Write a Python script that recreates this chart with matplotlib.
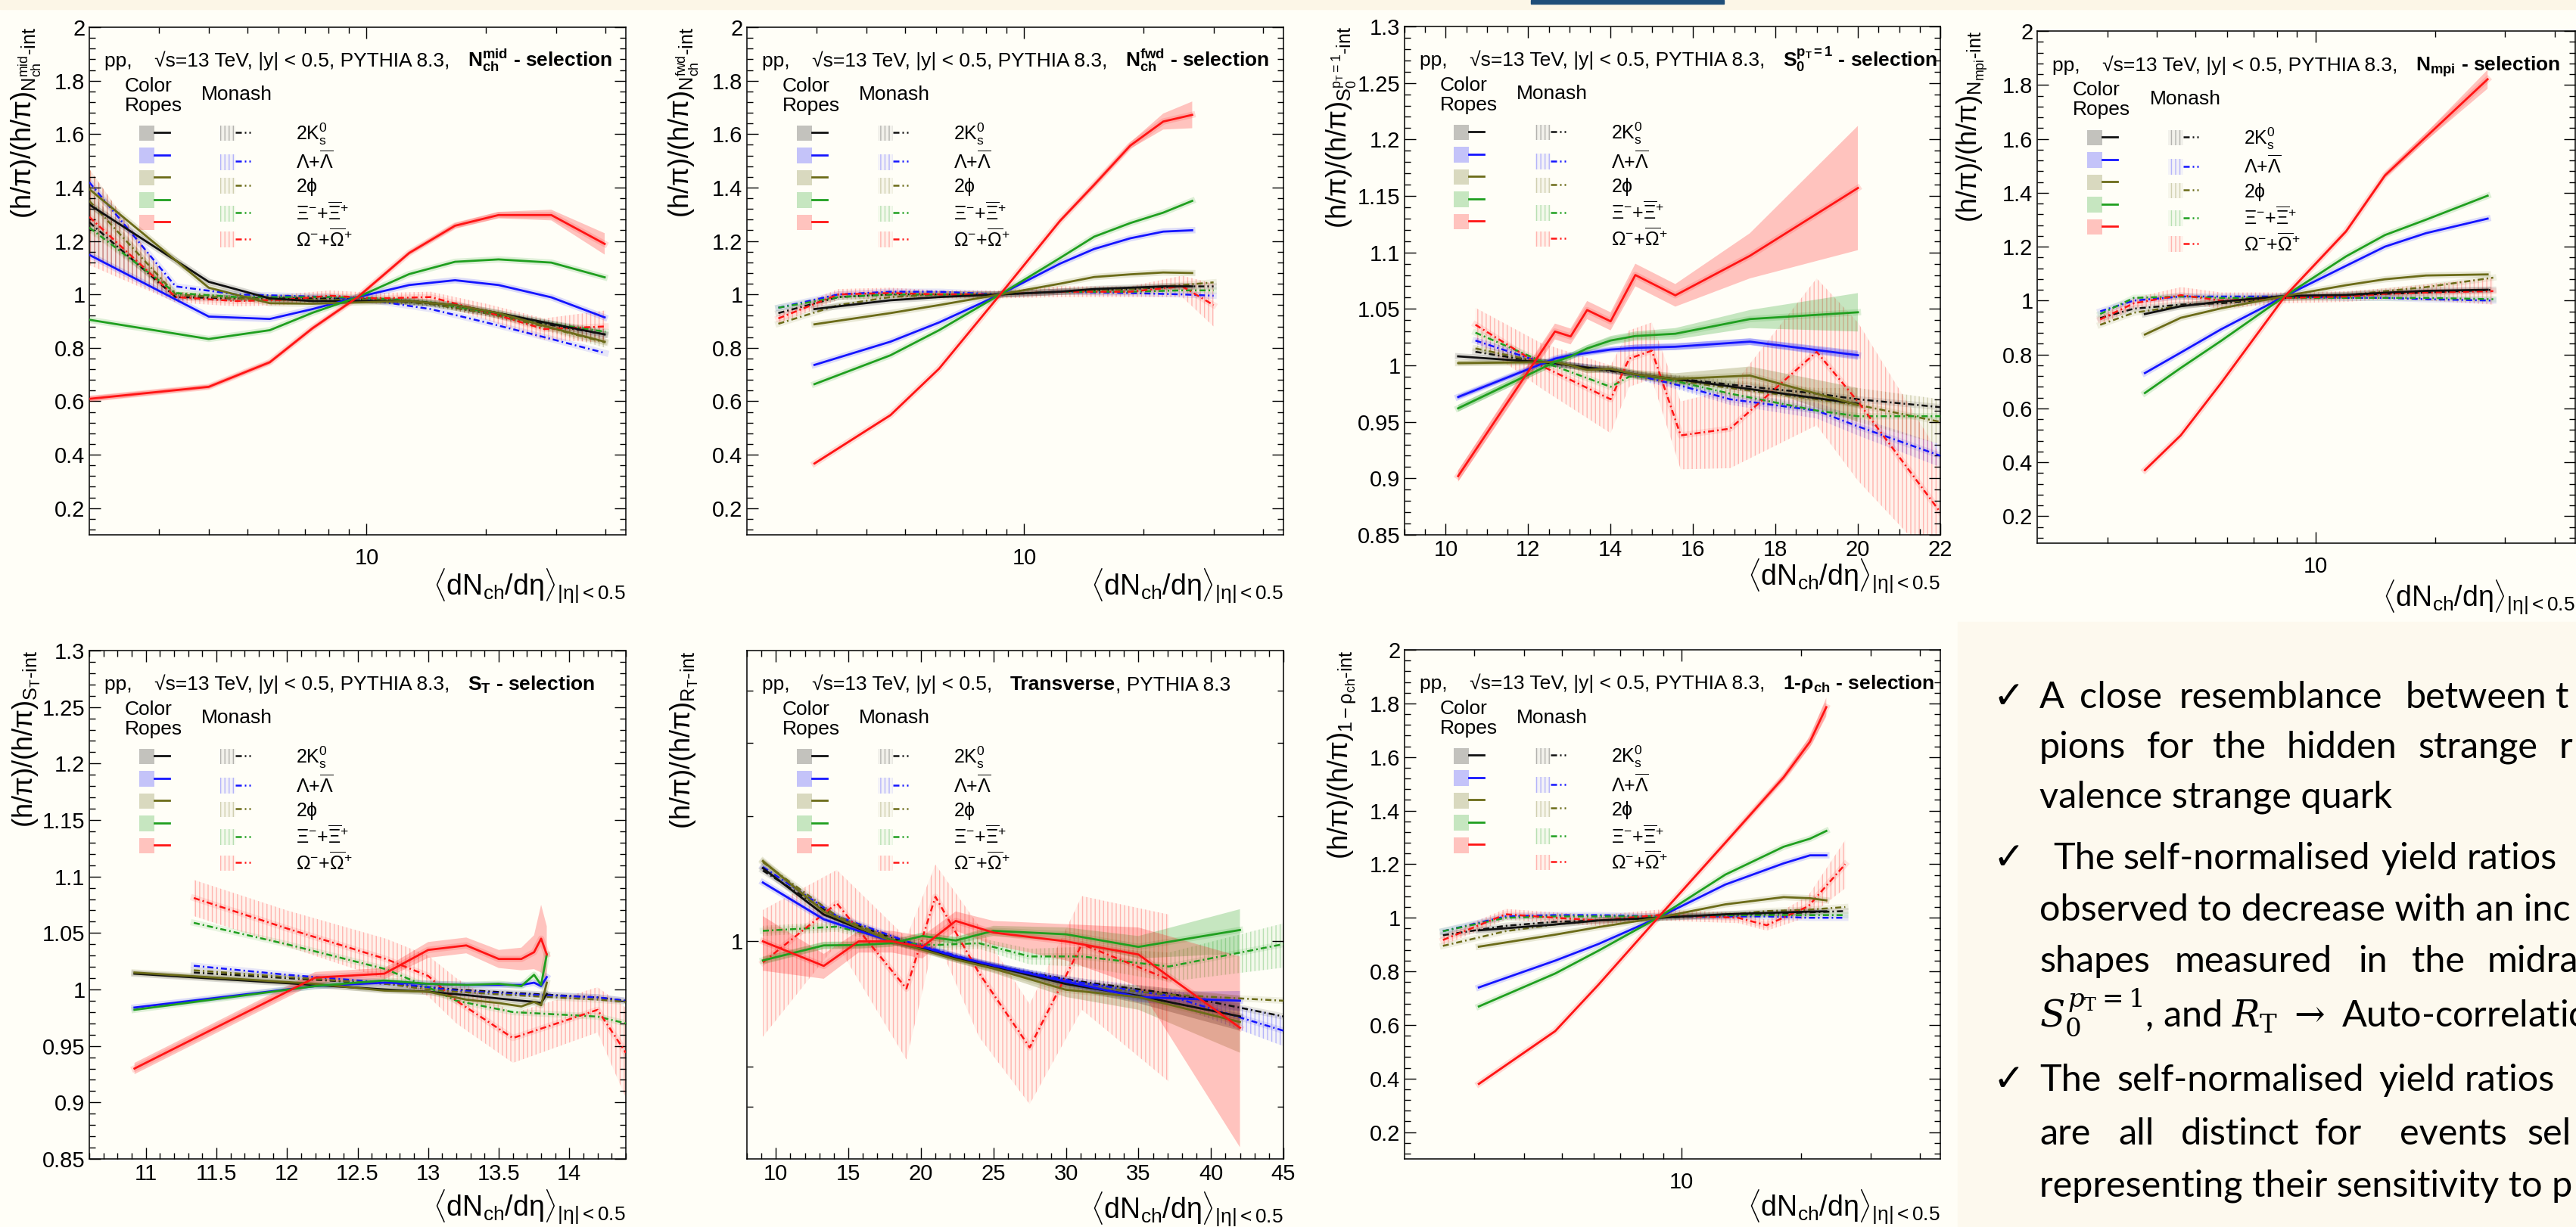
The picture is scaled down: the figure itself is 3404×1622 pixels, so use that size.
import numpy as np
import matplotlib
matplotlib.use('Agg')
import matplotlib.pyplot as plt
from matplotlib.colors import to_rgba
from matplotlib.lines import Line2D
from matplotlib.patches import Patch, Rectangle
from matplotlib.legend_handler import HandlerTuple
from matplotlib.ticker import FixedLocator, MultipleLocator, NullFormatter, FuncFormatter

nan = np.nan

# ---------------- data ----------------
SPECIES = ['k0s', 'lam', 'phi', 'xi', 'omega']
LABELS = [r'2K$^{0}_{\mathrm{s}}$', r'$\Lambda$+$\overline{\Lambda}$', r'2$\mathrm{\phi}$',
          r'$\Xi^{-}$+$\overline{\Xi}^{+}$', r'$\Omega^{-}$+$\overline{\Omega}^{+}$']
COLORS = ['#111111', '#1414ff', '#6b6b18', '#1f9f1f', '#ff1414']

# N_ch^mid selection
MID_X_ROPES = [2.0, 4.0, 5.7, 7.3, 9.5, 12.8, 16.7, 21.5, 29.2, 39.8]
MID_ROPES_K0S = [1.336, 1.047, 0.985, 0.975, 0.975, 0.975, 0.96, 0.93, 0.89, 0.85]
MID_ROPES_LAM = [1.148, 0.917, 0.908, 0.945, 0.99, 1.035, 1.053, 1.035, 0.989, 0.914]
MID_ROPES_PHI = [1.394, 1.025, 0.967, 0.965, 0.97, 0.975, 0.96, 0.93, 0.875, 0.823]
MID_ROPES_XI = [0.905, 0.833, 0.866, 0.931, 0.99, 1.076, 1.122, 1.131, 1.119, 1.064]
MID_ROPES_OMEGA = [0.609, 0.654, 0.746, 0.873, 0.99, 1.155, 1.257, 1.297, 1.297, 1.189]
MID_ROPES_OMEGA_ERR = [0.01, 0.008, 0.008, 0.008, 0.008, 0.008, 0.01, 0.012, 0.02, 0.04]
MID_X_MONASH = [2.0, 3.3, 4.7, 6.2, 8.1, 10.6, 14.5, 20.0, 28.0, 40.0]
MID_MONASH_K0S = [1.27, 0.99, 0.985, 0.985, 0.985, 0.98, 0.965, 0.93, 0.89, 0.85]
MID_MONASH_LAM = [1.42, 1.03, 1.0, 0.995, 0.99, 0.975, 0.945, 0.895, 0.84, 0.78]
MID_MONASH_PHI = [1.35, 1.0, 0.985, 0.98, 0.98, 0.98, 0.965, 0.93, 0.88, 0.82]
MID_MONASH_XI = [1.25, 1.005, 0.99, 0.99, 0.99, 0.985, 0.97, 0.935, 0.895, 0.86]
MID_MONASH_OMEGA = [1.29, 0.99, 0.975, 0.98, 0.995, 0.985, 0.99, 0.935, 0.87, 0.88]
MID_MONASH_OMEGA_ERR = [0.18, 0.02, 0.02, 0.02, 0.02, 0.02, 0.02, 0.03, 0.04, 0.06]
MID_MONASH_K0S_ERR = [0.12, 0.01, 0.01, 0.01, 0.01, 0.01, 0.01, 0.01, 0.015, 0.02]
MID_MONASH_PHI_ERR = [0.12, 0.01, 0.01, 0.01, 0.01, 0.01, 0.01, 0.01, 0.015, 0.02]

# N_ch^fwd selection
FWD_X_ROPES = [2.96, 4.6, 6.1, 8.7, 12.3, 15.0, 18.5, 22.4, 26.5]
FWD_ROPES_K0S = [0.945, 0.978, 0.99, 1.0, 1.01, 1.02, 1.025, 1.03, 1.03]
FWD_ROPES_LAM = [0.736, 0.823, 0.895, 1.0, 1.115, 1.17, 1.21, 1.235, 1.24]
FWD_ROPES_PHI = [0.888, 0.93, 0.96, 1.0, 1.04, 1.065, 1.075, 1.082, 1.08]
FWD_ROPES_XI = [0.664, 0.772, 0.866, 1.0, 1.136, 1.216, 1.267, 1.306, 1.35]
FWD_ROPES_OMEGA = [0.367, 0.548, 0.722, 1.0, 1.275, 1.41, 1.557, 1.647, 1.672]
FWD_ROPES_OMEGA_ERR = [0.005, 0.005, 0.005, 0.005, 0.008, 0.01, 0.012, 0.03, 0.05]
FWD_X_MONASH = [2.4, 3.4, 4.6, 6.1, 8.7, 12.3, 18.5, 25.0, 30.0]
FWD_MONASH_K0S = [0.93, 0.99, 1.0, 1.0, 1.0, 1.01, 1.02, 1.03, 1.03]
FWD_MONASH_LAM = [0.95, 1.0, 1.01, 1.01, 1.0, 1.01, 1.005, 1.0, 0.995]
FWD_MONASH_PHI = [0.89, 0.96, 0.99, 1.0, 1.0, 1.01, 1.02, 1.035, 1.045]
FWD_MONASH_XI = [0.95, 0.99, 1.0, 1.0, 1.0, 1.01, 1.01, 1.015, 1.015]
FWD_MONASH_OMEGA = [0.91, 1.0, 1.005, 1.0, 1.0, 1.01, 1.01, 1.03, 0.96]
FWD_MONASH_OMEGA_ERR = [0.02, 0.02, 0.02, 0.015, 0.015, 0.02, 0.02, 0.04, 0.08]

# S0^{pT=1} selection
S0_X_ROPES = [10.3, 12.65, 13.03, 13.43, 14.0, 14.6, 15.57, 17.38, 20.0]
S0_ROPES_K0S = [1.008, 1.002, 1.0, 0.998, 0.996, 0.992, 0.988, 0.979, 0.966]
S0_ROPES_LAM = [0.972, 1.006, 1.009, 1.011, 1.014, 1.0155, 1.0165, 1.021, 1.009]
S0_ROPES_PHI = [1.002, 1.003, 1.0, 0.996, 0.997, 0.992, 0.988, 0.991, 0.965]
S0_ROPES_XI = [0.962, 1.003, 1.008, 1.015, 1.022, 1.026, 1.028, 1.041, 1.047]
S0_ROPES_OMEGA = [0.902, 1.03, 1.0256, 1.049, 1.039, 1.08, 1.062, 1.097, 1.157]
S0_ROPES_OMEGA_ERR = [0.005, 0.007, 0.007, 0.008, 0.008, 0.01, 0.01, 0.02, 0.055]
S0_ROPES_XI_ERR = [0.003, 0.003, 0.003, 0.003, 0.004, 0.004, 0.005, 0.008, 0.017]
S0_ROPES_PHI_ERR = [0.002, 0.002, 0.002, 0.003, 0.003, 0.004, 0.005, 0.008, 0.015]
S0_ROPES_LAM_ERR = [0.002, 0.002, 0.002, 0.002, 0.002, 0.003, 0.003, 0.003, 0.004]
S0_X_MONASH = [10.72, 12.3, 14.0, 14.45, 15.0, 15.7, 16.9, 19.0, 20.0, 22.0]
S0_MONASH_K0S = [1.012, 1.003, 0.995, 0.993, 0.99, 0.988, 0.983, 0.975, 0.97, 0.963]
S0_MONASH_LAM = [1.022, 1.003, 0.996, 0.993, 0.988, 0.982, 0.97, 0.96, 0.946, 0.92]
S0_MONASH_PHI = [1.015, 1.003, 0.996, 0.993, 0.99, 0.986, 0.98, 0.97, 0.965, 0.95]
S0_MONASH_XI = [1.029, 1.004, 0.981, 0.99, 0.99, 0.985, 0.975, 0.96, 0.955, 0.955]
S0_MONASH_OMEGA = [1.036, 1.0, 0.97, 1.006, 1.013, 0.938, 0.944, 1.012, 0.968, 0.87]
S0_MONASH_OMEGA_ERR = [0.015, 0.02, 0.03, 0.025, 0.025, 0.03, 0.035, 0.065, 0.07, 0.05]
S0_MONASH_PHI_ERR = [0.003, 0.003, 0.003, 0.003, 0.004, 0.005, 0.007, 0.01, 0.015, 0.02]
S0_MONASH_LAM_ERR = [0.003, 0.003, 0.003, 0.003, 0.004, 0.004, 0.005, 0.007, 0.008, 0.01]

# N_mpi selection
MPI_X_ROPES = [3.73, 4.59, 5.79, 8.4, 11.95, 14.96, 18.97, 27.1]
MPI_ROPES_K0S = [0.95, 0.979, 0.996, 1.017, 1.021, 1.029, 1.036, 1.04]
MPI_ROPES_LAM = [0.731, 0.807, 0.893, 1.017, 1.129, 1.2, 1.25, 1.304]
MPI_ROPES_PHI = [0.874, 0.936, 0.971, 1.017, 1.057, 1.079, 1.093, 1.097]
MPI_ROPES_XI = [0.657, 0.75, 0.85, 1.017, 1.164, 1.243, 1.3, 1.389]
MPI_ROPES_OMEGA = [0.371, 0.5, 0.693, 1.017, 1.257, 1.464, 1.607, 1.821]
MPI_ROPES_OMEGA_ERR = [0.005, 0.005, 0.006, 0.006, 0.008, 0.01, 0.015, 0.035]
MPI_X_MONASH = [2.88, 3.5, 4.6, 5.8, 8.4, 12.0, 15.0, 19.0, 28.0]
MPI_MONASH_K0S = [0.935, 0.97, 0.985, 0.99, 1.01, 1.02, 1.025, 1.03, 1.04]
MPI_MONASH_LAM = [0.96, 1.0, 1.015, 1.015, 1.015, 1.01, 1.01, 1.005, 1.0]
MPI_MONASH_PHI = [0.91, 0.955, 0.98, 0.995, 1.01, 1.02, 1.035, 1.05, 1.085]
MPI_MONASH_XI = [0.95, 1.01, 1.015, 1.01, 1.01, 1.01, 1.01, 1.01, 1.005]
MPI_MONASH_OMEGA = [0.93, 0.99, 1.02, 1.0, 1.01, 1.015, 1.025, 1.03, 1.035]
MPI_MONASH_OMEGA_ERR = [0.02, 0.02, 0.03, 0.03, 0.02, 0.02, 0.02, 0.03, 0.05]

# S_T selection
ST_X_ROPES = [10.92, 12.2, 12.69, 13.0, 13.27, 13.5, 13.66, 13.75, 13.8, 13.84]
ST_ROPES_K0S = [1.014, 1.004, 1.0, 0.998, 0.995, 0.992, 0.99, 0.989, 0.988, 0.996]
ST_ROPES_LAM = [0.984, 1.003, 1.006, 1.005, 1.004, 1.004, 1.004, 1.006, 1.003, 1.011]
ST_ROPES_PHI = [1.015, 1.005, 0.999, 0.998, 0.991, 0.988, 0.985, 0.989, 0.986, 1.006]
ST_ROPES_XI = [0.982, 1.003, 1.008, 1.005, 1.004, 1.005, 1.003, 1.013, 1.004, 1.031]
ST_ROPES_OMEGA = [0.930, 1.0105, 1.014, 1.035, 1.039, 1.027, 1.027, 1.033, 1.045, 1.031]
ST_ROPES_OMEGA_ERR = [0.005, 0.005, 0.005, 0.007, 0.007, 0.008, 0.01, 0.015, 0.03, 0.025]
ST_X_MONASH = [11.34, 12.0, 12.7, 13.0, 13.2, 13.6, 14.2, 14.4]
ST_MONASH_K0S = [1.015, 1.01, 1.005, 1.002, 1.0, 0.997, 0.993, 0.99]
ST_MONASH_LAM = [1.021, 1.013, 1.006, 1.002, 0.999, 0.996, 0.993, 0.99]
ST_MONASH_PHI = [1.017, 1.011, 1.005, 1.0, 0.998, 0.995, 0.991, 0.989]
ST_MONASH_XI = [1.059, 1.04, 1.018, 1.002, 0.99, 0.98, 0.976, 0.97]
ST_MONASH_OMEGA = [1.081, 1.054, 1.027, 1.012, 0.99, 0.957, 0.982, 0.944]
ST_MONASH_OMEGA_ERR = [0.016, 0.016, 0.018, 0.018, 0.02, 0.022, 0.02, 0.04]

# R_T (transverse) selection
RT_X_ROPES = [9.1, 13.3, 15.7, 18.0, 20.1, 22.4, 25.0, 30.0, 35.0, 42.0]
RT_ROPES_K0S = [1.50, 1.16, 1.075, 1.0, 0.963, 0.911, 0.872, 0.79, 0.74, 0.66]
RT_ROPES_LAM = [1.385, 1.13, 1.06, 1.0, 0.97, 0.92, 0.875, 0.8, 0.735, 0.72]
RT_ROPES_PHI = [1.56, 1.18, 1.08, 1.0, 0.955, 0.905, 0.86, 0.765, 0.735, 0.64]
RT_ROPES_XI = [0.90, 0.978, 0.98, 0.99, 1.03, 1.005, 1.06, 1.04, 0.97, 1.065]
RT_ROPES_OMEGA = [1.0, 0.873, 1.0, 1.0, 0.97, 1.12, 1.05, 1.0, 0.93, 0.62]
RT_ROPES_OMEGA_ERR = [0.15, 0.06, 0.06, 0.06, 0.06, 0.06, 0.07, 0.1, 0.15, 0.3]
RT_ROPES_XI_ERR = [0.02, 0.02, 0.02, 0.02, 0.02, 0.02, 0.03, 0.04, 0.06, 0.13]
RT_ROPES_PHI_ERR = [0.02, 0.015, 0.015, 0.015, 0.015, 0.015, 0.02, 0.03, 0.05, 0.1]
RT_ROPES_LAM_ERR = [0.01, 0.01, 0.01, 0.01, 0.01, 0.01, 0.01, 0.015, 0.02, 0.04]
RT_ROPES_K0S_ERR = [0.01, 0.01, 0.01, 0.01, 0.01, 0.01, 0.01, 0.02, 0.03, 0.05]
RT_X_MONASH = [9.1, 14.2, 19.0, 21.0, 24.0, 27.5, 31.1, 37.1, 45.0]
RT_MONASH_K0S = [1.48, 1.14, 0.99, 0.95, 0.89, 0.84, 0.8, 0.75, 0.66]
RT_MONASH_LAM = [1.51, 1.15, 1.0, 0.955, 0.89, 0.84, 0.795, 0.74, 0.61]
RT_MONASH_PHI = [1.55, 1.15, 0.98, 0.94, 0.88, 0.83, 0.78, 0.745, 0.72]
RT_MONASH_XI = [1.06, 1.085, 0.99, 0.98, 0.99, 0.92, 0.92, 0.87, 0.985]
RT_MONASH_OMEGA = [0.89, 1.235, 0.77, 1.28, 0.84, 0.556, 0.985, 0.81, nan]
RT_MONASH_OMEGA_ERR = [0.3, 0.25, 0.25, 0.25, 0.25, 0.15, 0.3, 0.35, nan]
RT_MONASH_XI_ERR = [0.03, 0.03, 0.03, 0.03, 0.03, 0.04, 0.05, 0.07, 0.12]
RT_MONASH_LAM_ERR = [0.01, 0.01, 0.01, 0.01, 0.01, 0.015, 0.02, 0.03, 0.05]

# 1-rho_ch selection
RHO_X_ROPES = [3.08, 4.8, 6.17, 8.72, 12.9, 18.1, 21.1, 23.2]
RHO_ROPES_K0S = [0.953, 0.975, 0.99, 1.0, 1.013, 1.02, 1.023, 1.024]
RHO_ROPES_LAM = [0.74, 0.84, 0.902, 1.0, 1.124, 1.203, 1.233, 1.233]
RHO_ROPES_PHI = [0.892, 0.937, 0.965, 1.0, 1.05, 1.077, 1.073, 1.065]
RHO_ROPES_XI = [0.669, 0.792, 0.877, 1.0, 1.161, 1.265, 1.295, 1.324]
RHO_ROPES_OMEGA = [0.38, 0.577, 0.75, 1.0, 1.28, 1.524, 1.657, 1.786]
RHO_ROPES_OMEGA_ERR = [0.005, 0.005, 0.005, 0.005, 0.008, 0.012, 0.02, 0.035]
RHO_X_MONASH = [2.5, 3.6, 4.8, 6.17, 8.72, 13.9, 16.4, 20.9, 25.9]
RHO_MONASH_K0S = [0.935, 0.97, 0.985, 0.99, 1.0, 1.01, 1.015, 1.02, 1.025]
RHO_MONASH_LAM = [0.95, 1.005, 1.01, 1.01, 1.005, 1.005, 1.005, 1.0, 1.0]
RHO_MONASH_PHI = [0.895, 0.95, 0.975, 0.99, 1.0, 1.015, 1.025, 1.03, 1.04]
RHO_MONASH_XI = [0.95, 1.0, 1.005, 1.005, 1.005, 1.01, 1.01, 1.01, 1.01]
RHO_MONASH_OMEGA = [0.917, 1.013, 1.0, 0.99, 1.01, 1.0, 0.972, 1.043, 1.2]
RHO_MONASH_OMEGA_ERR = [0.02, 0.02, 0.02, 0.02, 0.02, 0.02, 0.02, 0.04, 0.09]

# ---------------- style ----------------
plt.rcParams.update({
    'font.family': ['Liberation Sans', 'DejaVu Sans'],
    'mathtext.fontset': 'custom',
    'mathtext.rm': 'Liberation Sans',
    'mathtext.it': 'Liberation Sans',
    'mathtext.bf': 'Liberation Sans:bold',
    'mathtext.sf': 'Liberation Sans',
    'mathtext.fallback': 'cm',
    'hatch.linewidth': 1.0,
    'axes.linewidth': 1.1,
})

W, H = 3405, 1622
BG = '#fffef7'
DASH = (3.2, 1.6, 0.8, 1.6)
fig = plt.figure(figsize=(W / 100, H / 100), dpi=100, facecolor=BG)
fig.add_artist(Rectangle((0, 1 - 12 / H), 1, 12 / H, transform=fig.transFigure, color='#fcf6e7', zorder=0))
fig.add_artist(Rectangle((2023 / W, 1 - 5 / H), 255 / W, 5 / H, transform=fig.transFigure, color='#1f4e79', zorder=1))
fig.add_artist(Rectangle((2587 / W, 0), (W - 2587) / W, 1 - 822 / H, transform=fig.transFigure,
                         color='#fdf9ee', zorder=0))
renderer = fig.canvas.get_renderer()

XLABEL = r'$\langle$dN$_{\mathrm{ch}}$/dη$\rangle_{\mathrm{|\eta| < 0.5}}$'


def sel(prefix, tune, suffix=''):
    g = globals()
    out = {}
    for k in SPECIES:
        name = f'{prefix}_{tune}_{k.upper()}{suffix}'
        if name in g:
            out[k] = g[name]
    return out


def header(ax, parts, y=0.922, x0=0.028):
    prev = None
    for s, bold, gap in parts:
        x = x0
        if prev is not None:
            bb = prev.get_window_extent(renderer)
            x = ax.transAxes.inverted().transform((bb.x1 + gap * 100 / 72, 0))[0]
        prev = ax.text(x, y, s, transform=ax.transAxes, fontsize=19, va='baseline', ha='left',
                       fontweight='bold' if bold else 'normal', zorder=6)


def draw_panel(cfg):
    l, t, r, b = cfg['rect']
    ax = fig.add_axes([l / W, 1 - b / H, (r - l) / W, (b - t) / H])
    ax.set_facecolor(BG)
    p = cfg['prefix']
    xr, xm = globals()[p + '_X_ROPES'], globals()[p + '_X_MONASH']
    ropes, ropes_err = sel(p, 'ROPES'), sel(p, 'ROPES', '_ERR')
    mon, mon_err = sel(p, 'MONASH'), sel(p, 'MONASH', '_ERR')
    for k, c in zip(SPECIES, COLORS):
        ym = np.array(mon[k], float)
        if k in mon_err:
            e = np.array(mon_err[k], float)
            ax.fill_between(xm, ym - e, ym + e, facecolor=to_rgba(c, 0.05), edgecolor=to_rgba(c, 0.28),
                            hatch='|||', linewidth=0, zorder=1)
        ax.plot(xm, ym, color=c, lw=6, alpha=0.10, zorder=1.5)
        ax.plot(xm, ym, color=c, lw=1.8, dashes=DASH, zorder=3)
    for k, c in zip(SPECIES, COLORS):
        yr = np.array(ropes[k], float)
        if k in ropes_err:
            e = np.array(ropes_err[k], float)
            ax.fill_between(xr, yr - e, yr + e, facecolor=to_rgba(c, 0.25), linewidth=0, zorder=2)
        ax.plot(xr, yr, color=c, lw=6, alpha=0.15, zorder=2)
        ax.plot(xr, yr, color=c, lw=2.0, zorder=4)

    ax.set_xlim(*cfg['xlim'])
    ax.set_ylim(*cfg['ylim'])
    fmt = FuncFormatter(lambda v, pos: f'{v:g}')
    if cfg['xlog']:
        ax.set_xscale('log')
        ax.xaxis.set_major_locator(FixedLocator([10]))
        ax.xaxis.set_minor_locator(FixedLocator([3, 4, 5, 6, 7, 8, 9, 20, 30, 40]))
    else:
        ax.xaxis.set_major_locator(MultipleLocator(cfg['xmaj']))
        ax.xaxis.set_minor_locator(MultipleLocator(cfg['xmin']))
    ax.xaxis.set_major_formatter(fmt)
    ax.xaxis.set_minor_formatter(NullFormatter())
    if cfg['ylog']:
        ax.set_yscale('log')
        ax.yaxis.set_major_locator(FixedLocator([1]))
        ax.yaxis.set_minor_locator(FixedLocator([0.4, 0.5, 2, 3, 4]))
    else:
        ax.yaxis.set_major_locator(MultipleLocator(cfg['ymaj']))
        ax.yaxis.set_minor_locator(MultipleLocator(cfg['ymin']))
    ax.yaxis.set_major_formatter(fmt)
    ax.yaxis.set_minor_formatter(NullFormatter())
    ax.tick_params(which='both', direction='in', top=True, right=True, labelsize=21, width=1.0)
    ax.tick_params(which='major', length=11)
    ax.tick_params(which='minor', length=6)
    ax.tick_params(axis='x', pad=12 if cfg['xlog'] else 4)
    ax.tick_params(axis='y', pad=4)

    hpx = b - t
    ax.set_xlabel(XLABEL, fontsize=27, loc='right')
    ax.xaxis.set_label_coords(1.0, -cfg['xlab'] / hpx)
    ax.xaxis.label.set_va('top')
    ax.set_ylabel('(h/π)/(h/π)' + cfg['ysub'], fontsize=26, loc='top')
    ax.yaxis.set_label_coords(-0.088, 1.0)
    ax.yaxis.label.set_va('bottom')

    header(ax, cfg['head'])
    ax.text(0.066, 0.902, 'Color\nRopes', transform=ax.transAxes, fontsize=19, va='top', linespacing=1.1)
    ax.text(0.209, 0.867, 'Monash', transform=ax.transAxes, fontsize=19, va='center')
    rh = [(Patch(facecolor=to_rgba(c, 0.25), edgecolor='none'), Line2D([], [], color=c, lw=2.0))
          for c in COLORS]
    mh = [(Patch(facecolor=to_rgba(c, 0.05), edgecolor=to_rgba(c, 0.28), hatch='|||', lw=0),
           Line2D([], [], color=c, lw=1.8, dashes=DASH)) for c in COLORS]
    ax.legend(rh + mh, [''] * 5 + LABELS, ncol=2, loc='upper left', bbox_to_anchor=(0.0925, 0.815),
              frameon=False, fontsize=18, handlelength=1.6, handleheight=0.9, handletextpad=2.4,
              columnspacing=0.3, labelspacing=0.22, borderpad=0, borderaxespad=0,
              handler_map={tuple: HandlerTuple(ndivide=None, pad=0)})
    return ax


REG = 'pp,    √s=13 TeV, |y| < 0.5, PYTHIA 8.3,'
PANELS = [
    dict(prefix='MID', rect=(118, 36, 827, 707), xlab=43, xlog=True, xlim=(2.0, 45), ylog=False,
         ylim=(0.1, 2.0), ymaj=0.2, ymin=0.04, ysub=r'$_{\mathrm{N_{ch}^{mid}\text{-}int}}$',
         head=[(REG, False, 0), (r'$\mathbf{N^{mid}_{ch}}$ - selection', True, 17)]),
    dict(prefix='FWD', rect=(987, 36, 1696, 707), xlab=43, xlog=True, xlim=(2.0, 45), ylog=False,
         ylim=(0.1, 2.0), ymaj=0.2, ymin=0.04, ysub=r'$_{\mathrm{N_{ch}^{fwd}\text{-}int}}$',
         head=[(REG, False, 0), (r'$\mathbf{N^{fwd}_{ch}}$ - selection', True, 17)]),
    dict(prefix='S0', rect=(1856, 35, 2564, 707), xlab=30, xlog=False, xlim=(9, 22), xmaj=2, xmin=0.5,
         ylog=False, ylim=(0.85, 1.3), ymaj=0.05, ymin=0.01, ysub=r'$_{\mathrm{S_{0}^{p_{T}=1}\text{-}int}}$',
         head=[(REG, False, 0), (r'$\mathbf{S_{0}^{p_{T}=1}}$ - selection', True, 17)]),
    dict(prefix='MPI', rect=(2692, 41, 3403, 718), xlab=47, xlog=True, xlim=(2.0, 45), ylog=False,
         ylim=(0.1, 2.0), ymaj=0.2, ymin=0.04, ysub=r'$_{\mathrm{N_{mpi}\text{-}int}}$',
         head=[(REG, False, 0), (r'$\mathbf{N_{mpi}}$ - selection', True, 17)]),
    dict(prefix='ST', rect=(118, 860, 827, 1532), xlab=39, xlog=False, xlim=(10.6, 14.4), xmaj=0.5,
         xmin=0.1, ylog=False, ylim=(0.85, 1.3), ymaj=0.05, ymin=0.01, ysub=r'$_{\mathrm{S_{T}\text{-}int}}$',
         head=[(REG, False, 0), (r'$\mathbf{S_{T}}$ - selection', True, 17)]),
    dict(prefix='RT', rect=(987, 860, 1696, 1532), xlab=42, xlog=False, xlim=(8, 45), xmaj=5, xmin=1,
         ylog=True, ylim=(0.3, 5.0), ysub=r'$_{\mathrm{R_{T}\text{-}int}}$',
         head=[('pp,    √s=13 TeV, |y| < 0.5,', False, 0), ('Transverse', True, 17),
               (', PYTHIA 8.3', False, 0)]),
    dict(prefix='RHO', rect=(1856, 859, 2564, 1532), xlab=39, xlog=True, xlim=(2.0, 45), ylog=False,
         ylim=(0.1, 2.0), ymaj=0.2, ymin=0.04, ysub=r'$_{\mathrm{1-\rho_{ch}\text{-}int}}$',
         head=[(REG, False, 0), (r'1-$\mathbf{\rho_{ch}}$ - selection', True, 17)]),
]

for cfg in PANELS:
    draw_panel(cfg)

# ---------------- text box ----------------
TB_FONT = ['Lato', 'DejaVu Sans']
TB_LINES = [
    (936, [(2695, 'A'), (2748, 'close'), (2880, 'resemblance'), (3179, 'between'), (3377, 't')]),
    (1002, [(2695, 'pions'), (2837, 'for'), (2924, 'the'), (3022, 'hidden'), (3195, 'strange'), (3382, 'r')]),
    (1067, [(2695, 'valence strange quark')]),
    (1149, [(2713, 'The'), (2805, 'self-normalised'), (3146, 'yield'), (3260, 'ratios')]),
    (1217, [(2695, 'observed to decrease with an inc')]),
    (1285, [(2695, 'shapes'), (2874, 'measured'), (3116, 'in'), (3187, 'the'), (3287, 'midra')]),
    (1358, [(2695, r'$S_0^{p_\mathrm{T}=1}$, and $R_\mathrm{T}$ $\rightarrow$ Auto-correlatio')]),
    (1442, [(2695, 'The'), (2797, 'self-normalised'), (3143, 'yield'), (3257, 'ratios')]),
    (1513, [(2695, 'are'), (2799, 'all'), (2882, 'distinct'), (3059, 'for'), (3171, 'events'), (3339, 'sel')]),
    (1581, [(2695, 'representing their sensitivity to p')]),
]
for yb, words in TB_LINES:
    for xw, s in words:
        fig.text(xw / W, 1 - yb / H, s, fontsize=35, family=TB_FONT, va='baseline', ha='left',
                 math_fontfamily='dejavuserif')
for yb in (936, 1149, 1442):
    fig.text(2634 / W, 1 - yb / H, '✓', fontsize=36, family=['DejaVu Sans'], va='baseline', ha='left')

fig.savefig('out.png', dpi=100, facecolor=BG)
